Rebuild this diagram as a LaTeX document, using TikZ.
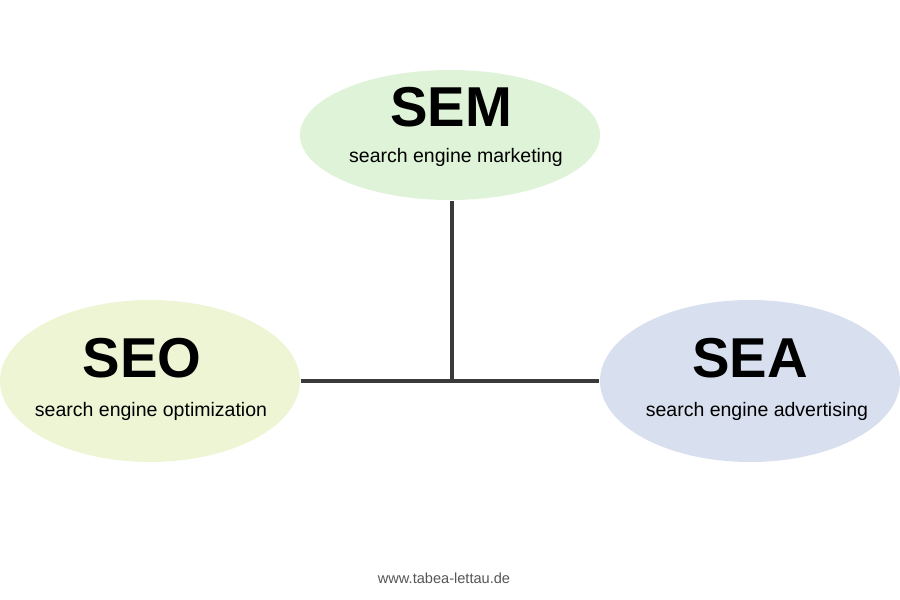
\documentclass[tikz,border=0pt]{standalone}
\usepackage{fontspec}
\setmainfont{Liberation Sans}
\usetikzlibrary{shapes.geometric}
\definecolor{semgreen}{HTML}{DFF3D8}
\definecolor{seoyellow}{HTML}{EEF5D5}
\definecolor{seablue}{HTML}{D8DFEE}
\definecolor{linegray}{HTML}{3A3A3A}
\definecolor{footgray}{HTML}{555555}
\begin{document}
\begin{tikzpicture}[-,thick,
    area/.style={ellipse,minimum width=6cm,inner sep=0pt},
    title/.style={font=\fontsize{32}{34}\selectfont\bfseries},
    subtitle/.style={font=\fontsize{11.1}{13}\selectfont},
    link/.style={line width=2.8pt,draw=linegray}]
            \useasboundingbox (0,0) rectangle (18,12);

            \node[area, fill=semgreen, minimum height=2.6cm] (sem) at (9,9.3){};
            \node[area, fill=seoyellow, minimum height=3.24cm] (seo) at (3,4.38){};
            \node[area, fill=seablue, minimum height=3.24cm] (sea) at (15,4.38){};

            \node[title] (semtitle) at (9.02,9.86){SEM};
            \node[subtitle] (semsub) at (9.12,8.86){search engine marketing};
            \node[title] (seotitle) at (2.84,4.84){SEO};
            \node[subtitle] (seosub) at (3.02,3.78){search engine optimization};
            \node[title] (seatitle) at (15,4.84){SEA};
            \node[subtitle] (seasub) at (15.14,3.78){search engine advertising};

            \coordinate (hub) at (9.04,4.38);

            % \path[every node/.style={font=\small}]

            \draw[link] (seo.east) to (sea.west);
            \draw[link] (sem.south -| hub) to (hub);

            \node[font=\fontsize{8.3}{10}\selectfont, text=footgray] (footer) at (8.88,0.44){www.tabea-lettau.de};
        \end{tikzpicture}
\end{document}
